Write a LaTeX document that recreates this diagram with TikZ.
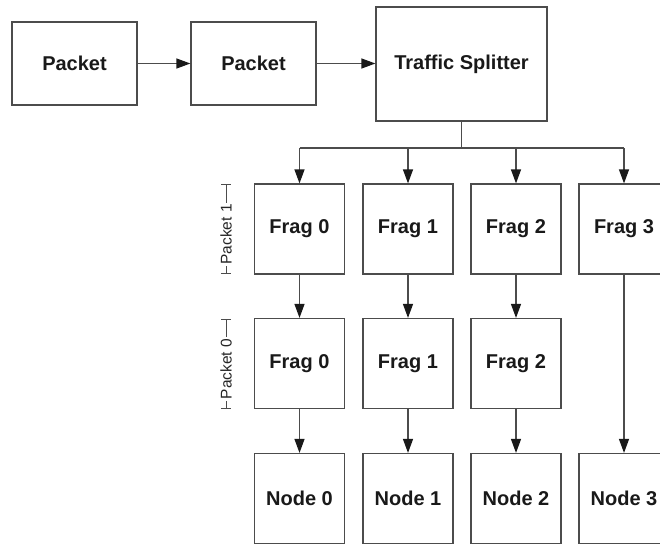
\documentclass[tikz,border=0pt]{standalone}
\usepackage{fontspec}
\setmainfont{Liberation Sans}
\usetikzlibrary{arrows.meta}
\begin{document}
\begin{tikzpicture}[x=1pt,y=-1pt,
  line width=1.2pt,
  box/.style={draw=black!70, line width=1.2pt, inner sep=0pt,
    font=\fontsize{20}{24}\selectfont\bfseries, text=black!90},
  wide/.style={box, minimum width=125pt, minimum height=83pt},
  cell/.style={box, minimum width=90pt, minimum height=90pt},
  link/.style={draw=black!70, line width=1.2pt,
    -{Triangle[length=14pt,width=10pt,fill=black!90,color=black!90]}},
  wire/.style={draw=black!70, line width=1.2pt},
  brace/.style={draw=black!70, line width=1pt},
  bracelabel/.style={fill=white, inner sep=1.5pt, rotate=90,
    font=\fontsize{15.5}{18}\selectfont, text=black!85}]
\useasboundingbox (0,0) rectangle (660,544);
\clip (0,0) rectangle (660,544);

% top row
\node[wide] (p1) at (74.5,63.5) {Packet};
\node[wide] (p2) at (253.5,63.5) {Packet};
\node[box, minimum width=171pt, minimum height=114pt] (ts) at (461.5,64) {Traffic Splitter};
\draw[link] (p1) -- (p2);
\draw[link] (p2.east) -- (p2.east -| ts.west);

% fragment grid
\foreach \i/\x in {0/299.5,1/408,2/516,3/624} {
  \node[cell] (fa\i) at (\x,229) {Frag \i};
  \node[cell] (nd\i) at (\x,498.5) {Node \i};
}
\foreach \i/\x in {0/299.5,1/408,2/516} {
  \node[cell] (fb\i) at (\x,363.5) {Frag \i};
}

% splitter fan-out
\coordinate (j) at (461.5,148);
\draw[wire] (ts.south) -- (j);
\draw[wire] (j -| fa0.north) -- (j -| fa3.north);
\foreach \i in {0,1,2,3} {
  \draw[link] (j -| fa\i.north) -- (fa\i.north);
}
\foreach \i in {0,1,2} {
  \draw[link] (fa\i) -- (fb\i);
  \draw[link] (fb\i) -- (nd\i);
}
\draw[link] (fa3) -- (nd3);

% packet brackets
\coordinate (b1t) at (226,184);
\coordinate (b1b) at (226,273);
\coordinate (b0t) at (226,319);
\coordinate (b0b) at (226,408);
\draw[brace] (b1t) -- (b1b);
\draw[brace] ([xshift=-5pt]b1t) -- ([xshift=5pt]b1t);
\draw[brace] ([xshift=-5pt]b1b) -- ([xshift=5pt]b1b);
\draw[brace] (b0t) -- (b0b);
\draw[brace] ([xshift=-5pt]b0t) -- ([xshift=5pt]b0t);
\draw[brace] ([xshift=-5pt]b0b) -- ([xshift=5pt]b0b);
\node[bracelabel] (l1) at (226,234.5) {Packet 1};
\node[bracelabel] (l0) at (226,369) {Packet 0};
\end{tikzpicture}
\end{document}
